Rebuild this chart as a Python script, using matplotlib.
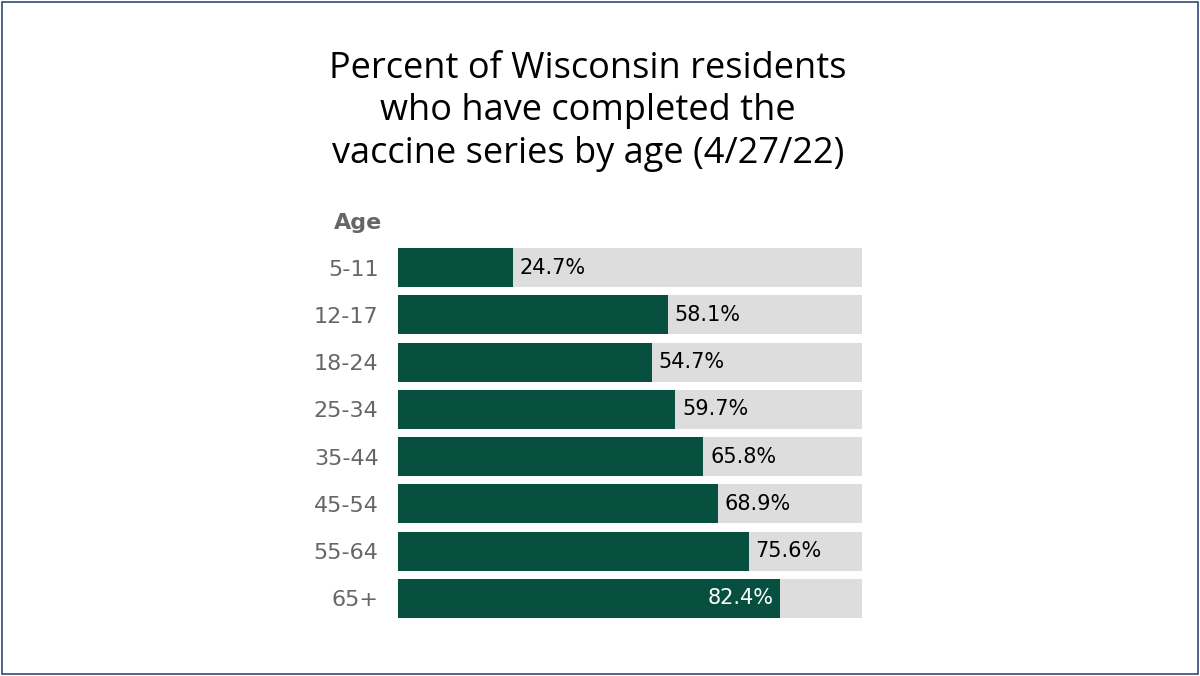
import matplotlib
matplotlib.use("Agg")
import matplotlib.pyplot as plt
from matplotlib.patches import Rectangle

ages = ["5-11", "12-17", "18-24", "25-34", "35-44", "45-54", "55-64", "65+"]
values = [24.7, 58.1, 54.7, 59.7, 65.8, 68.9, 75.6, 82.4]
title = "Percent of Wisconsin residents\nwho have completed the\nvaccine series by age (4/27/22)"

fig = plt.figure(figsize=(12, 6.76), dpi=100)
fig.patches.append(Rectangle((0.002, 0.003), 0.996, 0.994, transform=fig.transFigure,
                             fill=False, edgecolor="#2F4B7C", linewidth=1.2))
fig.text(0.49, 0.925, title, ha="center", va="top", fontsize=26, family="Open Sans",
         linespacing=1.25)

ax = fig.add_axes([398/1200, 1-622/676, 464/1200, 378/676])
y = list(range(len(ages)))
ax.barh(y, [100]*len(ages), height=0.83, color="#DDDDDD")
ax.barh(y, values, height=0.83, color="#07503F")
for i, v in enumerate(values):
    if v > 80:
        ax.text(v - 1.5, i, f"{v}%", ha="right", va="center", color="white", fontsize=15)
    else:
        ax.text(v + 1.5, i, f"{v}%", ha="left", va="center", color="black", fontsize=15)
ax.set_xlim(0, 100)
ax.set_ylim(len(ages) - 0.5, -0.5)
ax.set_yticks(y)
ax.set_yticklabels(ages, fontsize=16, color="#666666")
ax.tick_params(axis="y", length=0, pad=14)
ax.set_xticks([])
for s in ax.spines.values():
    s.set_visible(False)
ax.text(-3.5, -0.95, "Age", ha="right", va="center", fontsize=16, fontweight="bold",
        color="#666666")

fig.savefig("out.png", dpi=100)
